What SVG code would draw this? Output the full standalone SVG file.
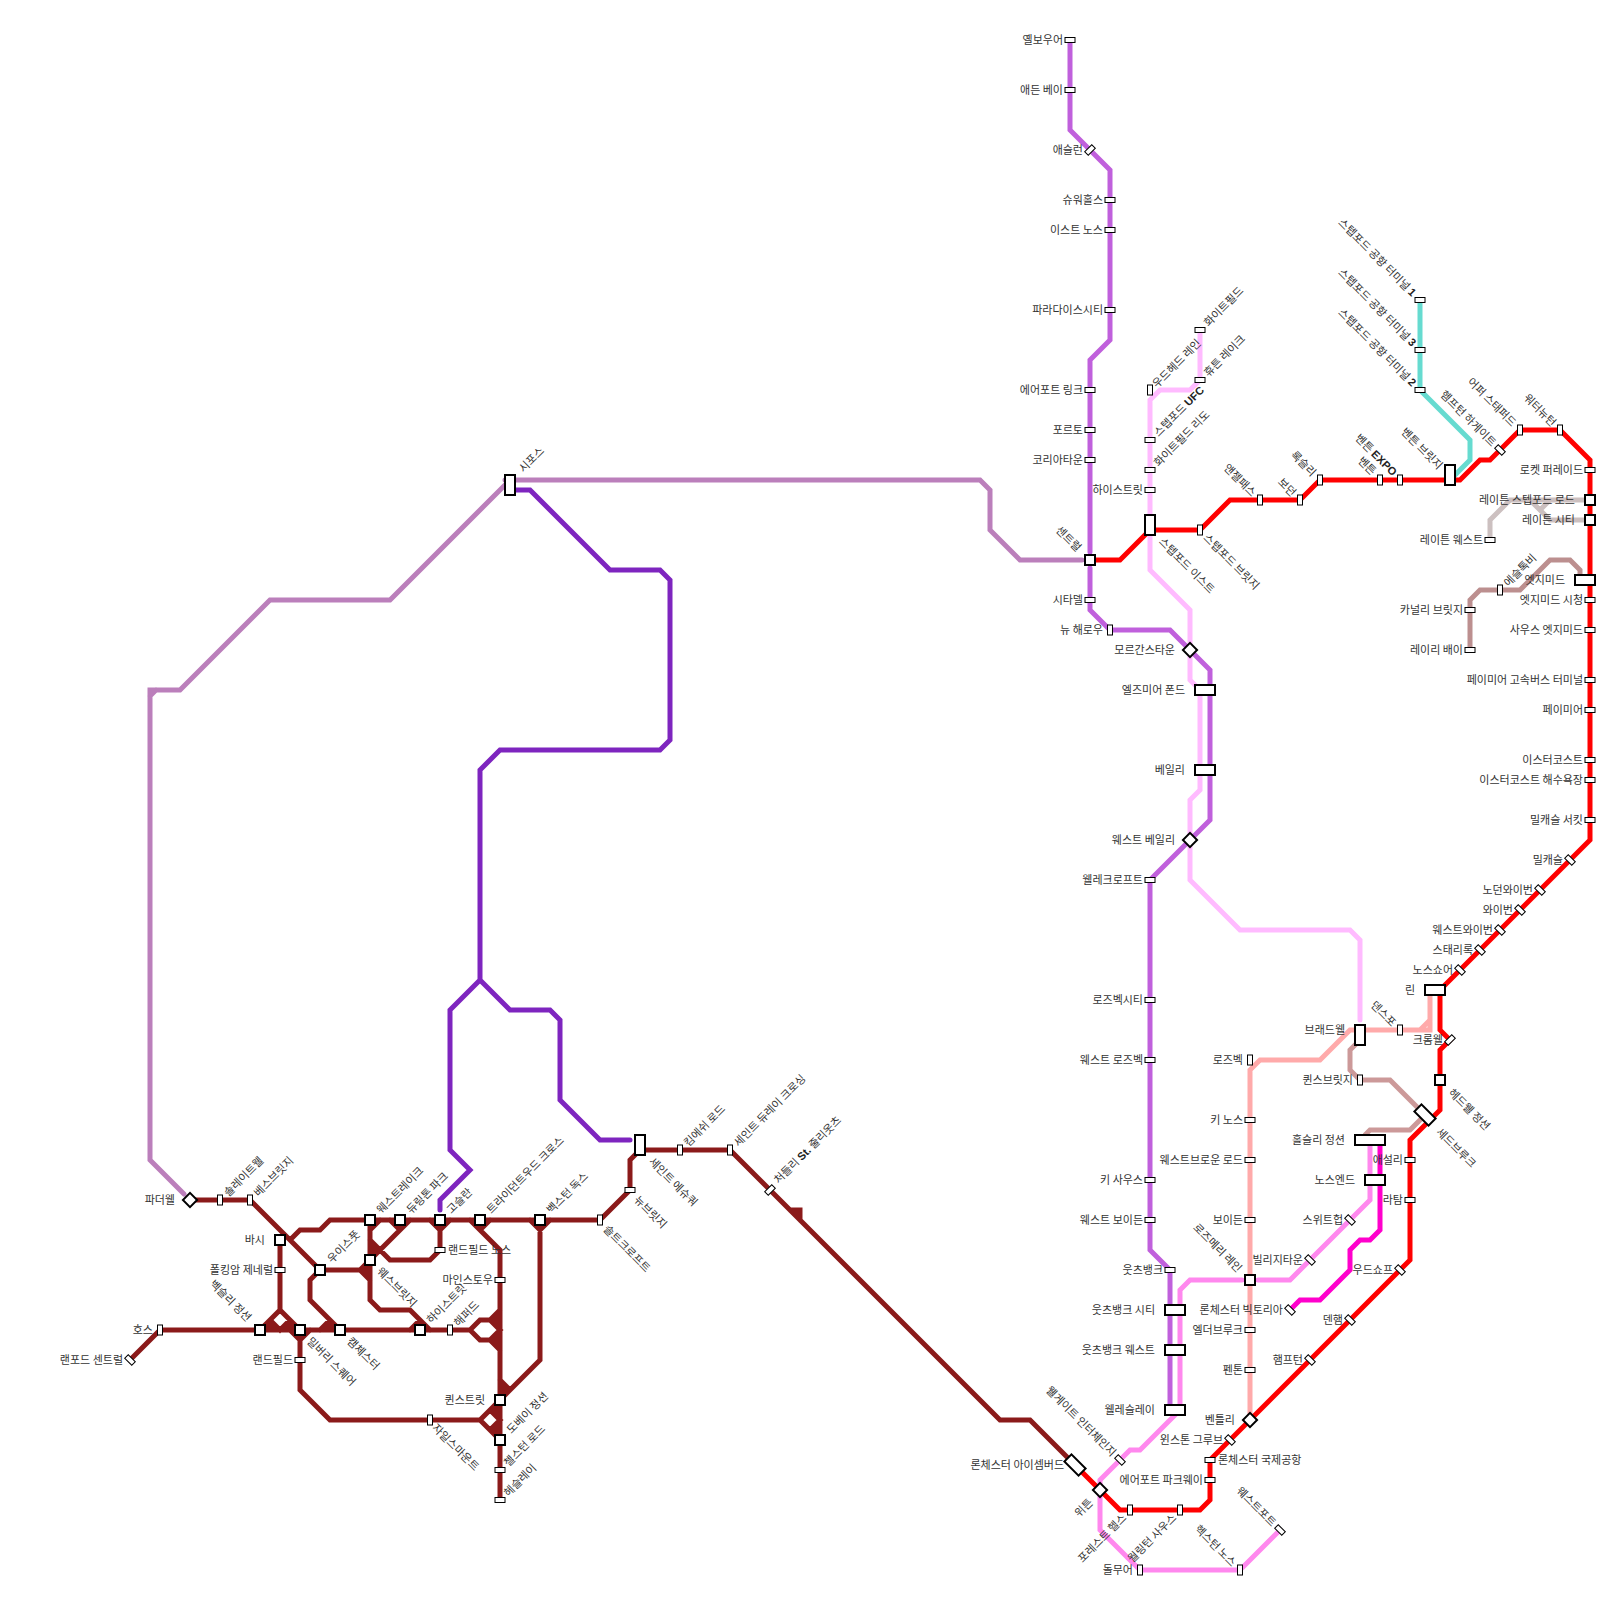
<svg xmlns="http://www.w3.org/2000/svg" width="1600" height="1600" viewBox="0 0 1600 1600">
<style>
text{font-family:"Noto Sans CJK KR","Noto Sans",sans-serif;font-size:11px;fill:#333}
.b{font-family:"Liberation Sans","Noto Sans CJK KR",sans-serif;font-weight:700;fill:#222}
.e{text-anchor:end}
#lines path{fill:none;stroke-width:5;stroke-linejoin:miter;stroke-linecap:round}
#lines path.f{fill:#8b1a1a;stroke:none}
.st{fill:#fff;stroke:#000;stroke-width:1}
.ic{fill:#fff;stroke:#000;stroke-width:2}
</style>
<defs>
<rect id="h" class="st" x="-5" y="-2.5" width="10" height="5"/>
<rect id="v" class="st" x="-2.5" y="-5" width="5" height="10"/>
<rect id="p" class="st" x="-5" y="-2.5" width="10" height="5" transform="rotate(45)"/>
<rect id="m" class="st" x="-5" y="-2.5" width="10" height="5" transform="rotate(-45)"/>
<rect id="b" class="ic" x="-5" y="-5" width="10" height="10"/>
<rect id="w" class="ic" x="-10" y="-5" width="20" height="10"/>
<rect id="x" class="ic" x="-15" y="-5" width="30" height="10"/>
<rect id="t" class="ic" x="-5" y="-10" width="10" height="20"/>
<rect id="d" class="ic" x="-5" y="-5" width="10" height="10" transform="rotate(45)"/>
<rect id="r" class="ic" x="-10" y="-5" width="20" height="10" transform="rotate(45)"/>
</defs>
<g id="lines">
<path stroke="#ffbbff" d="M1200 330V380L1190 390H1160L1150 400V570L1190 610V680L1200 690V790L1190 800V880L1240 930H1350L1360 940V1020"/>
<path stroke="#c060dc" d="M1070 40V130L1110 170V340L1090 360V552M1090 568V610L1110 630H1170L1210 670V820L1150 880V1250L1170 1270V1410"/>
<path stroke="#bb7fbb" d="M505 480H980L990 490V530L1020 560H1082M505 485L390 600H270L180 690H150V1160L184 1194M150 696L156 690"/>
<path stroke="#7e25bf" d="M510 490H530L610 570H660L670 580V740L660 750H500L480 770V980L450 1010V1150L470 1170L440 1200V1210M480 980L510 1010H550L560 1020V1100L600 1140H630"/>
<path stroke="#ffaaaa" d="M1250 1420V1070L1260 1060H1320L1350 1030H1420L1430 1020V990M1420 1030H1430V1020"/>
<path stroke="#cc9999" d="M1360 1040L1350 1050V1070L1360 1080H1390L1425 1115L1410 1130H1370L1365 1135"/>
<path stroke="#ff88ee" d="M1280 1530L1240 1570H1140L1100 1530V1480L1130 1450H1140L1180 1410V1290L1190 1280H1242M1258 1280H1290L1370 1200V1145"/>
<path stroke="#ff00cc" d="M1380 1145V1230L1370 1240H1360L1350 1250V1270L1320 1300H1300L1290 1310"/>
<path stroke="#66dbd0" d="M1420 300V390L1470 440V460L1450 480"/>
<path stroke="#ccc0c0" d="M1490 540V520L1510 500H1590M1530 500L1550 520H1590M1540 510L1550 500"/>
<path stroke="#bc8f8f" d="M1470 650V600L1480 590H1520L1550 560H1570L1580 570V575"/>
<path stroke="#ff0000" d="M1090 560H1120L1150 530H1200L1230 500H1300L1320 480H1460L1480 460H1490L1520 430H1560L1590 460V840L1450 980L1440 990V1030L1450 1040L1440 1050V1110L1410 1140V1260L1210 1460V1500L1200 1510H1120L1075 1465"/>
<path stroke="#8b1a1a" d="M130 1360L160 1330H470L480 1320H490L500 1310M470 1330L480 1340H490L500 1350M490 1320L500 1330L490 1340M190 1200H250L320 1270H360L370 1260M360 1270L370 1280M370 1220V1300L380 1310H410L430 1330M420 1320L410 1330M280 1240V1310L260 1330M280 1310L300 1330M270 1320L280 1330L290 1320M290 1330L300 1340L310 1330M300 1330V1390L330 1420H480L500 1400M480 1420L500 1440M490 1410L500 1420L490 1430M320 1270L310 1280V1300L340 1330M330 1320L320 1330M290 1240L300 1230H320L330 1220H600L630 1190V1160L640 1150H730L1000 1420H1030L1070 1460M790 1210H800V1220M370 1230L380 1220M390 1220L400 1230M410 1220L370 1260M370 1240L390 1260H430L440 1250V1220M430 1220L440 1230L450 1220M470 1220L500 1250V1500M480 1230L490 1220M530 1220L540 1230L550 1220M540 1230V1360L500 1400M500 1380L510 1390"/>
<path class="f" d="M260 1330L270 1320L280 1330ZM280 1330L290 1320L300 1330ZM320 1330L330 1320L340 1330ZM490 1320L500 1310V1330ZM490 1340L500 1330V1350ZM380 1250L370 1240V1260ZM360 1270L370 1260V1280ZM500 1380L510 1390L500 1400ZM490 1410L500 1400V1420ZM490 1430L500 1420V1440ZM790 1210H800V1220Z"/>
</g>
<g id="n1" transform="translate(190,1200)"><use href="#d"/><text class="e" x="-15" y="4">파더웰</text></g>
<g id="n2" transform="translate(220,1200)"><use href="#v"/><text transform="rotate(-45)" x="8" y="4">솔레이트웰</text></g>
<g id="n3" transform="translate(250,1200)"><use href="#v"/><text transform="rotate(-45)" x="8" y="4">베스브릿지</text></g>
<g id="n4" transform="translate(280,1240)"><use href="#b"/><text class="e" x="-15" y="4">바시</text></g>
<g id="n5" transform="translate(280,1270)"><use href="#h"/><text class="e" x="-7" y="4">폴킹암 제네럴</text></g>
<g id="n6" transform="translate(260,1330)"><use href="#b"/><text class="e" transform="rotate(45)" x="-15" y="4">벡슬리 정션</text></g>
<g id="n7" transform="translate(160,1330)"><use href="#v"/><text class="e" x="-7" y="4">호스</text></g>
<g id="n8" transform="translate(130,1360)"><use href="#p"/><text class="e" x="-7" y="4">랜포드 센트럴</text></g>
<g id="n9" transform="translate(300,1330)"><use href="#b"/><text transform="rotate(45)" x="13" y="4">밀버리 스퀘어</text></g>
<g id="n10" transform="translate(300,1360)"><use href="#h"/><text class="e" x="-7" y="4">랜드필드</text></g>
<g id="n11" transform="translate(320,1270)"><use href="#b"/><text transform="rotate(-45)" x="13" y="4">우이스풋</text></g>
<g id="n12" transform="translate(340,1330)"><use href="#b"/><text transform="rotate(45)" x="13" y="4">캠체스터</text></g>
<g id="n13" transform="translate(370,1220)"><use href="#b"/><text transform="rotate(-45)" x="12" y="4">웨스트레이크</text></g>
<g id="n14" transform="translate(400,1220)"><use href="#b"/><text transform="rotate(-45)" x="12" y="4">듀링톤 파크</text></g>
<g id="n15" transform="translate(440,1220)"><use href="#b"/><text transform="rotate(-45)" x="12" y="4">고슬란</text></g>
<g id="n16" transform="translate(480,1220)"><use href="#b"/><text transform="rotate(-45)" x="12" y="4">트라이던트우드 크로스</text></g>
<g id="n17" transform="translate(540,1220)"><use href="#b"/><text transform="rotate(-45)" x="12" y="4">벡스턴 독스</text></g>
<g id="n18" transform="translate(600,1220)"><use href="#v"/><text transform="rotate(45)" x="9" y="5">솔트크로프트</text></g>
<g id="n19" transform="translate(630,1190)"><use href="#h"/><text transform="rotate(45)" x="10" y="5">뉴브릿지</text></g>
<g id="n20" transform="translate(640,1145)"><use href="#t"/><text transform="rotate(45)" x="18" y="6.5">세인트 에슈쿼</text></g>
<g id="n21" transform="translate(680,1150)"><use href="#v"/><text transform="rotate(-45)" x="8" y="4">킴에쉬 로드</text></g>
<g id="n22" transform="translate(730,1150)"><use href="#v"/><text transform="rotate(-45)" x="8" y="4">세인트 듀레이 크로싱</text></g>
<g id="n23" transform="translate(770,1190)"><use href="#m"/><text transform="rotate(-45)" x="10" y="2">처들리 <tspan class="b">St.</tspan> 줄리옷츠</text></g>
<g id="n24" transform="translate(370,1260)"><use href="#b"/><text transform="rotate(45)" x="13" y="4">웨스브릿지</text></g>
<g id="n25" transform="translate(440,1250)"><use href="#h"/><text x="8" y="4">랜드필드 노스</text></g>
<g id="n26" transform="translate(500,1280)"><use href="#h"/><text class="e" x="-7" y="4">마인스토우</text></g>
<g id="n27" transform="translate(420,1330)"><use href="#b"/><text transform="rotate(-45)" x="12" y="4">하이스트릿</text></g>
<g id="n28" transform="translate(450,1330)"><use href="#v"/><text transform="rotate(-45)" x="8" y="4">해퍼드</text></g>
<g id="n29" transform="translate(500,1400)"><use href="#b"/><text class="e" x="-15" y="4">퀸스트릿</text></g>
<g id="n30" transform="translate(500,1440)"><use href="#b"/><text transform="rotate(-45)" x="12" y="4">도베이 정션</text></g>
<g id="n31" transform="translate(500,1470)"><use href="#h"/><text transform="rotate(-45)" x="8" y="4">첼스턴 로드</text></g>
<g id="n32" transform="translate(500,1500)"><use href="#h"/><text transform="rotate(-45)" x="8" y="4">헤슬레이</text></g>
<g id="n33" transform="translate(430,1420)"><use href="#v"/><text transform="rotate(45)" x="7" y="5">자일스마운트</text></g>
<g id="n34" transform="translate(510,485)"><use href="#t"/><text transform="rotate(-45)" x="18" y="1">시포스</text></g>
<g id="n35" transform="translate(1070,40)"><use href="#h"/><text class="e" x="-7" y="4">옐보우어</text></g>
<g id="n36" transform="translate(1070,90)"><use href="#h"/><text class="e" x="-7" y="4">애든 베이</text></g>
<g id="n37" transform="translate(1090,150)"><use href="#m"/><text class="e" x="-7" y="4">애슬런</text></g>
<g id="n38" transform="translate(1110,200)"><use href="#h"/><text class="e" x="-7" y="4">슈워홀스</text></g>
<g id="n39" transform="translate(1110,230)"><use href="#h"/><text class="e" x="-7" y="4">이스트 노스</text></g>
<g id="n40" transform="translate(1110,310)"><use href="#h"/><text class="e" x="-7" y="4">파라다이스시티</text></g>
<g id="n41" transform="translate(1090,390)"><use href="#h"/><text class="e" x="-7" y="4">에어포트 링크</text></g>
<g id="n42" transform="translate(1090,430)"><use href="#h"/><text class="e" x="-7" y="4">포르토</text></g>
<g id="n43" transform="translate(1090,460)"><use href="#h"/><text class="e" x="-7" y="4">코리아타운</text></g>
<g id="n44" transform="translate(1090,560)"><use href="#b"/><text class="e" transform="rotate(45)" x="-15" y="4">센트럴</text></g>
<g id="n45" transform="translate(1090,600)"><use href="#h"/><text class="e" x="-7" y="4">시타델</text></g>
<g id="n46" transform="translate(1110,630)"><use href="#v"/><text class="e" x="-7" y="4">뉴 해로우</text></g>
<g id="n47" transform="translate(1190,650)"><use href="#d"/><text class="e" x="-15" y="4">모르간스타운</text></g>
<g id="n48" transform="translate(1205,690)"><use href="#w"/><text class="e" x="-20" y="4">엘즈미어 폰드</text></g>
<g id="n49" transform="translate(1205,770)"><use href="#w"/><text class="e" x="-20" y="4">베일리</text></g>
<g id="n50" transform="translate(1190,840)"><use href="#d"/><text class="e" x="-15" y="4">웨스트 베일리</text></g>
<g id="n51" transform="translate(1150,880)"><use href="#h"/><text class="e" x="-7" y="4">웰레크로프트</text></g>
<g id="n52" transform="translate(1150,1000)"><use href="#h"/><text class="e" x="-7" y="4">로즈벡시티</text></g>
<g id="n53" transform="translate(1150,1060)"><use href="#h"/><text class="e" x="-7" y="4">웨스트 로즈벡</text></g>
<g id="n54" transform="translate(1150,1180)"><use href="#h"/><text class="e" x="-7" y="4">키 사우스</text></g>
<g id="n55" transform="translate(1150,1220)"><use href="#h"/><text class="e" x="-7" y="4">웨스트 보이든</text></g>
<g id="n56" transform="translate(1170,1270)"><use href="#h"/><text class="e" x="-7" y="4">웃츠뱅크</text></g>
<g id="n57" transform="translate(1175,1310)"><use href="#w"/><text class="e" x="-20" y="4">웃츠뱅크 시티</text></g>
<g id="n58" transform="translate(1175,1350)"><use href="#w"/><text class="e" x="-20" y="4">웃츠뱅크 웨스트</text></g>
<g id="n59" transform="translate(1175,1410)"><use href="#w"/><text class="e" x="-20" y="4">웰레슬레이</text></g>
<g id="n60" transform="translate(1200,330)"><use href="#h"/><text transform="rotate(-45)" x="8" y="4">화이트필드</text></g>
<g id="n61" transform="translate(1200,380)"><use href="#h"/><text transform="rotate(-45)" x="8" y="4">휴튼 레이크</text></g>
<g id="n62" transform="translate(1150,390)"><use href="#v"/><text transform="rotate(-45)" x="6" y="4">우드헤드 레인</text></g>
<g id="n63" transform="translate(1150,440)"><use href="#h"/><text transform="rotate(-45)" x="8" y="4">스텝포드 <tspan class="b">UFC</tspan></text></g>
<g id="n64" transform="translate(1150,470)"><use href="#h"/><text transform="rotate(-45)" x="8" y="4">화이트필드 리도</text></g>
<g id="n65" transform="translate(1150,490)"><use href="#h"/><text class="e" x="-7" y="4">하이스트릿</text></g>
<g id="n66" transform="translate(1150,525)"><use href="#t"/><text transform="rotate(45)" x="18" y="6.5">스텝포드 이스트</text></g>
<g id="n67" transform="translate(1200,530)"><use href="#v"/><text transform="rotate(45)" x="8" y="4">스텝포드 브릿지</text></g>
<g id="n68" transform="translate(1260,500)"><use href="#v"/><text class="e" transform="rotate(45)" x="-8" y="4">앤젤패스</text></g>
<g id="n69" transform="translate(1300,500)"><use href="#v"/><text class="e" transform="rotate(45)" x="-8" y="4">보던</text></g>
<g id="n70" transform="translate(1320,480)"><use href="#v"/><text class="e" transform="rotate(45)" x="-8" y="4">록슬리</text></g>
<g id="n71" transform="translate(1380,480)"><use href="#v"/><text class="e" transform="rotate(45)" x="-9" y="3">벤튼</text></g>
<g id="n72" transform="translate(1400,480)"><use href="#v"/><text class="e" transform="rotate(45)" x="-8" y="3">벤튼 <tspan class="b">EXPO</tspan></text></g>
<g id="n73" transform="translate(1450,475)"><use href="#t"/><text class="e" transform="rotate(45)" x="-12" y="5">벤튼 브릿지</text></g>
<g id="n74" transform="translate(1500,450)"><use href="#p"/><text class="e" transform="rotate(45)" x="-8" y="4">헴프턴 하게이트</text></g>
<g id="n75" transform="translate(1520,430)"><use href="#v"/><text class="e" transform="rotate(45)" x="-8" y="4">어퍼 스태퍼드</text></g>
<g id="n76" transform="translate(1560,430)"><use href="#v"/><text class="e" transform="rotate(45)" x="-8" y="4">워터뉴턴</text></g>
<g id="n77" transform="translate(1420,300)"><use href="#h"/><text class="e" transform="rotate(45)" x="-8" y="4">스텝포드 공항 터미널 <tspan class="b">1</tspan></text></g>
<g id="n78" transform="translate(1420,350)"><use href="#h"/><text class="e" transform="rotate(45)" x="-8" y="4">스텝포드 공항 터미널 <tspan class="b">3</tspan></text></g>
<g id="n79" transform="translate(1420,390)"><use href="#h"/><text class="e" transform="rotate(45)" x="-8" y="4">스텝포드 공항 터미널 <tspan class="b">2</tspan></text></g>
<g id="n80" transform="translate(1590,470)"><use href="#h"/><text class="e" x="-7" y="4">로켓 퍼레이드</text></g>
<g id="n81" transform="translate(1590,500)"><use href="#b"/><text class="e" x="-15" y="4">레이튼 스텝포드 로드</text></g>
<g id="n82" transform="translate(1590,520)"><use href="#b"/><text class="e" x="-15" y="4">레이튼 시티</text></g>
<g id="n83" transform="translate(1490,540)"><use href="#h"/><text class="e" x="-7" y="4">레이튼 웨스트</text></g>
<g id="n84" transform="translate(1500,590)"><use href="#v"/><text transform="rotate(-45)" x="8" y="4">에슬톡비</text></g>
<g id="n85" transform="translate(1470,610)"><use href="#h"/><text class="e" x="-7" y="4">카널리 브릿지</text></g>
<g id="n86" transform="translate(1470,650)"><use href="#h"/><text class="e" x="-7" y="4">레이리 배이</text></g>
<g id="n87" transform="translate(1585,580)"><use href="#w"/><text class="e" x="-20" y="4">엣지미드</text></g>
<g id="n88" transform="translate(1590,600)"><use href="#h"/><text class="e" x="-7" y="4">엣지미드 시청</text></g>
<g id="n89" transform="translate(1590,630)"><use href="#h"/><text class="e" x="-7" y="4">사우스 엣지미드</text></g>
<g id="n90" transform="translate(1590,680)"><use href="#h"/><text class="e" x="-7" y="4">페이미어 고속버스 터미널</text></g>
<g id="n91" transform="translate(1590,710)"><use href="#h"/><text class="e" x="-7" y="4">페이미어</text></g>
<g id="n92" transform="translate(1590,760)"><use href="#h"/><text class="e" x="-7" y="4">이스터코스트</text></g>
<g id="n93" transform="translate(1590,780)"><use href="#h"/><text class="e" x="-7" y="4">이스터코스트 해수욕장</text></g>
<g id="n94" transform="translate(1590,820)"><use href="#h"/><text class="e" x="-7" y="4">밀캐슬 서킷</text></g>
<g id="n95" transform="translate(1570,860)"><use href="#p"/><text class="e" x="-7" y="4">밀캐슬</text></g>
<g id="n96" transform="translate(1540,890)"><use href="#p"/><text class="e" x="-7" y="4">노던와이번</text></g>
<g id="n97" transform="translate(1520,910)"><use href="#p"/><text class="e" x="-7" y="4">와이번</text></g>
<g id="n98" transform="translate(1500,930)"><use href="#p"/><text class="e" x="-7" y="4">웨스트와이번</text></g>
<g id="n99" transform="translate(1480,950)"><use href="#p"/><text class="e" x="-7" y="4">스태리록</text></g>
<g id="n100" transform="translate(1460,970)"><use href="#p"/><text class="e" x="-7" y="4">노스쇼어</text></g>
<g id="n101" transform="translate(1435,990)"><use href="#w"/><text class="e" x="-20" y="4">린</text></g>
<g id="n102" transform="translate(1450,1040)"><use href="#m"/><text class="e" x="-7" y="4">크롬웰</text></g>
<g id="n103" transform="translate(1440,1080)"><use href="#b"/><text transform="rotate(45)" x="15" y="4">헤드웰 정션</text></g>
<g id="n104" transform="translate(1425,1115)"><use href="#r"/><text transform="rotate(45)" x="20" y="5">세드브루크</text></g>
<g id="n105" transform="translate(1410,1160)"><use href="#h"/><text class="e" x="-7" y="4">애설리</text></g>
<g id="n106" transform="translate(1410,1200)"><use href="#h"/><text class="e" x="-7" y="4">라탐</text></g>
<g id="n107" transform="translate(1400,1270)"><use href="#p"/><text class="e" x="-7" y="4">우드쇼프</text></g>
<g id="n108" transform="translate(1350,1320)"><use href="#p"/><text class="e" x="-7" y="4">덴햄</text></g>
<g id="n109" transform="translate(1310,1360)"><use href="#p"/><text class="e" x="-7" y="4">햄프턴</text></g>
<g id="n110" transform="translate(1250,1420)"><use href="#d"/><text class="e" x="-15" y="4">벤틀리</text></g>
<g id="n111" transform="translate(1230,1440)"><use href="#p"/><text class="e" x="-7" y="4">윈스톤 그루브</text></g>
<g id="n112" transform="translate(1210,1460)"><use href="#h"/><text x="8" y="4">론체스터 국제공항</text></g>
<g id="n113" transform="translate(1210,1480)"><use href="#h"/><text class="e" x="-7" y="4">에어포트 파크웨이</text></g>
<g id="n114" transform="translate(1180,1510)"><use href="#v"/><text class="e" transform="rotate(-45)" x="-8" y="4">월링턴 사우스</text></g>
<g id="n115" transform="translate(1130,1510)"><use href="#v"/><text class="e" transform="rotate(-45)" x="-8" y="4">포레스트 헬스</text></g>
<g id="n116" transform="translate(1100,1490)"><use href="#d"/><text class="e" transform="rotate(-45)" x="-14" y="5">위튼</text></g>
<g id="n117" transform="translate(1075,1465)"><use href="#r"/><text class="e" x="-11" y="4">론체스터 아이셈버드</text></g>
<g id="n118" transform="translate(1120,1460)"><use href="#p"/><text class="e" transform="rotate(45)" x="-8" y="4">웰게이트 인터체인지</text></g>
<g id="n119" transform="translate(1140,1570)"><use href="#v"/><text class="e" x="-7" y="4">돌무어</text></g>
<g id="n120" transform="translate(1240,1570)"><use href="#v"/><text class="e" transform="rotate(45)" x="-8" y="4">헥스턴 노스</text></g>
<g id="n121" transform="translate(1280,1530)"><use href="#p"/><text class="e" transform="rotate(45)" x="-8" y="4">웨스트포트</text></g>
<g id="n122" transform="translate(1290,1310)"><use href="#p"/><text class="e" x="-7" y="4">론체스터 빅토리아</text></g>
<g id="n123" transform="translate(1310,1260)"><use href="#p"/><text class="e" x="-7" y="4">빌리지타운</text></g>
<g id="n124" transform="translate(1350,1220)"><use href="#p"/><text class="e" x="-7" y="4">스위트헙</text></g>
<g id="n125" transform="translate(1375,1180)"><use href="#w"/><text class="e" x="-20" y="4">노스엔드</text></g>
<g id="n126" transform="translate(1370,1140)"><use href="#x"/><text class="e" x="-25" y="4">홀슬리 정션</text></g>
<g id="n127" transform="translate(1360,1080)"><use href="#v"/><text class="e" x="-7" y="4">퀸스브릿지</text></g>
<g id="n128" transform="translate(1360,1035)"><use href="#t"/><text class="e" x="-15" y="-1">브래드웰</text></g>
<g id="n129" transform="translate(1400,1030)"><use href="#v"/><text class="e" transform="rotate(45)" x="-8" y="4">덴스포</text></g>
<g id="n130" transform="translate(1250,1060)"><use href="#v"/><text class="e" x="-7" y="4">로즈벡</text></g>
<g id="n131" transform="translate(1250,1120)"><use href="#h"/><text class="e" x="-7" y="4">키 노스</text></g>
<g id="n132" transform="translate(1250,1160)"><use href="#h"/><text class="e" x="-7" y="4">웨스트브로운 로드</text></g>
<g id="n133" transform="translate(1250,1220)"><use href="#h"/><text class="e" x="-7" y="4">보이든</text></g>
<g id="n134" transform="translate(1250,1280)"><use href="#b"/><text class="e" transform="rotate(45)" x="-14" y="4">로즈메리 레인</text></g>
<g id="n135" transform="translate(1250,1330)"><use href="#h"/><text class="e" x="-7" y="4">엘더브루크</text></g>
<g id="n136" transform="translate(1250,1370)"><use href="#h"/><text class="e" x="-7" y="4">펜톤</text></g>
</svg>
